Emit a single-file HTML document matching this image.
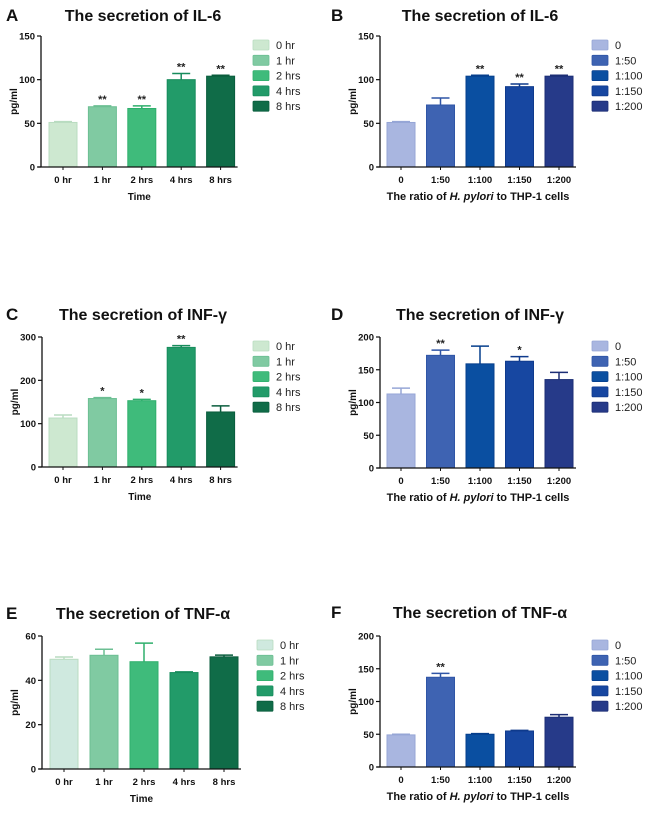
<!DOCTYPE html>
<html><head><meta charset="utf-8"><style>
html,body{margin:0;padding:0;background:#fff;}
svg{display:block;font-family:"Liberation Sans",Arial,sans-serif;}
</style></head><body>
<svg id="fig" width="650" height="813" viewBox="0 0 650 813" xmlns="http://www.w3.org/2000/svg"></svg>
<script>
const timeCats = ["0 hr","1 hr","2 hrs","4 hrs","8 hrs"];
const ratioCats = ["0","1:50","1:100","1:150","1:200"];
const greenFill = ["#cde8d0","#80caa2","#3fbb7b","#229b69","#106c48"];
const greenLine = ["#b9dcc0","#6cbf93","#2faf6c","#178c5c","#0a5d3d"];
const blueFill = ["#a9b6e0","#3e63b2","#0a4fa1","#1747a1","#263a89"];
const blueLine = ["#96a6d6","#2f55a6","#063f8c","#0f3a8c","#1c2e75"];

const aVals = [51,69,67,100,104];
const aErr  = [1,1,3,7,1];
const aStars = ["","**","**","**","**"];
const aTicks = [0,50,100,150];

const bVals = [51,71,104,92,104];
const bErr  = [1,8,1,3,1];
const bStars = ["","","**","**","**"];
const bTicks = [0,50,100,150];

const cVals = [113,158,153,276,127];
const cErr  = [7,2,3,4,14];
const cStars = ["","*","*","**",""];
const cTicks = [0,100,200,300];

const dVals = [113,172,159,163,135];
const dErr  = [9,8,27,7,11];
const dStars = ["","**","","*",""];
const dTicks = [0,50,100,150,200];

const eVals = [49.5,51.3,48.4,43.5,50.6];
const eErr  = [1,2.7,8.4,0.3,0.8];
const eStars = ["","","","",""];
const eTicks = [0,20,40,60];

const fVals = [49,137,50,55,76];
const fErr  = [1,6,1,1,4];
const fStars = ["","**","","",""];
const fTicks = [0,50,100,150,200];

const NS="http://www.w3.org/2000/svg";
const svg=document.getElementById('fig');
function mk(tag,attrs,parent,text){
  const e=document.createElementNS(NS,tag);
  for(const k in attrs)e.setAttribute(k,attrs[k]);
  if(text!==undefined)e.textContent=text;
  (parent||svg).appendChild(e);return e;
}

function panel(p){
  const g=mk('g',{});
  
  
  const ymax=p.ticks[p.ticks.length-1];
  const ys=v=>p.zero-(v/ymax)*(p.zero-p.top);
  const xs=i=>p.bar0+i*p.pitch;
  const bw=28;
  let t=mk('text',{x:p.letterX,y:p.titleY+6,'font-size':17,'font-weight':'bold',fill:'#111'},g,p.letter);
  
  
  t=mk('text',{x:p.titleX,y:p.titleY+6,'font-size':16,'font-weight':'bold','text-anchor':'middle',fill:'#111'},g,p.title);
  
  
  p.vals.forEach((v,i)=>{
    const x=xs(i),y=ys(v);
    const cx=x+bw/2, ye=ys(v+p.err[i]);
    const l=mk('line',{x1:cx,x2:cx,y1:y,y2:ye,stroke:p.lines[i],'stroke-width':1.5},g);
    
    
    const c=mk('line',{x1:cx-9,x2:cx+9,y1:ye,y2:ye,stroke:p.lines[i],'stroke-width':1.5},g);
    
    
    const r=mk('rect',{x:x,y:y,width:bw,height:p.zero-y,fill:p.fills[i],stroke:p.lines[i],'stroke-width':1},g);
    
    
    if(p.stars[i]){
      const s=mk('text',{x:cx,y:ye-3,'font-size':11,'font-weight':'bold','text-anchor':'middle',fill:'#222'},g,p.stars[i]);
      
      
    }
    const tk=mk('line',{x1:cx,x2:cx,y1:p.zero,y2:p.zero+3,stroke:'#111','stroke-width':1},g);
    
    
    const lb=mk('text',{x:cx,y:p.zero+16,'font-size':9.5,'font-weight':'bold','text-anchor':'middle',fill:'#111'},g,p.cats[i]);
    
    
  });
  const endX=xs(p.vals.length-1)+bw+3;
  let a=mk('line',{x1:p.axisX,x2:p.axisX,y1:p.top,y2:p.zero,stroke:'#111','stroke-width':1.3},g);
  
  
  a=mk('line',{x1:p.axisX-3,x2:endX,y1:p.zero,y2:p.zero,stroke:'#111','stroke-width':1.3},g);
  
  
  p.ticks.forEach(v=>{
    const y=ys(v);
    const tk=mk('line',{x1:p.axisX-4,x2:p.axisX,y1:y,y2:y,stroke:'#111','stroke-width':1.2},g);
    
    
    const lb=mk('text',{x:p.axisX-6,y:y+3.5,'font-size':9.5,'font-weight':'bold','text-anchor':'end',fill:'#111'},g,String(v));
    
    
  });
  const my=(p.top+p.zero)/2;
  let yt=mk('text',{x:0,y:0,'font-size':10,'font-weight':'bold','text-anchor':'middle',fill:'#111',transform:`translate(${p.axisX-24},${my}) rotate(-90)`},g,'pg/ml');
  
  
  const midX=(p.axisX+endX)/2;
  let xt=mk('text',{x:midX,y:p.zero+33,'font-size':p.ratio?11:10,'font-weight':'bold','text-anchor':'middle',fill:'#111'},g);
  
  
  if(p.ratio){
    mk('tspan',{},xt,'The ratio of ');
    mk('tspan',{'font-style':'italic'},xt,'H. pylori');
    mk('tspan',{},xt,' to THP-1 cells');
  } else xt.textContent='Time';
  p.cats.forEach((c,i)=>{
    const y=p.top+9+i*15.3;
    const sw=mk('rect',{x:p.legX,y:y-5,width:16,height:10,fill:p.fills[i],stroke:p.lines[i],'stroke-width':0.8,rx:1},g);
    
    
    const lt=mk('text',{x:p.legX+23,y:y+4,'font-size':11,fill:'#222'},g,c);
    
    
  });
}

const L={letterX:6,titleX:143,axisX:41,bar0:49,pitch:39.4,legX:253};
const R={letterX:331,titleX:480,axisX:380,bar0:387,pitch:39.5,legX:592};
panel(Object.assign({},L,{letter:'A',title:'The secretion of IL-6',titleY:15,top:36,zero:167,ticks:aTicks,vals:aVals,err:aErr,stars:aStars,cats:timeCats,fills:greenFill,lines:greenLine,ratio:false}));
panel(Object.assign({},R,{letter:'B',title:'The secretion of IL-6',titleY:15,top:36,zero:167,ticks:bTicks,vals:bVals,err:bErr,stars:bStars,cats:ratioCats,fills:blueFill,lines:blueLine,ratio:true}));
panel(Object.assign({},L,{letter:'C',axisX:42,title:'The secretion of INF-γ',titleY:314,top:337,zero:467,ticks:cTicks,vals:cVals,err:cErr,stars:cStars,cats:timeCats,fills:greenFill,lines:greenLine,ratio:false}));
panel(Object.assign({},R,{letter:'D',title:'The secretion of INF-γ',titleY:314,top:337,zero:468,ticks:dTicks,vals:dVals,err:dErr,stars:dStars,cats:ratioCats,fills:blueFill,lines:blueLine,ratio:true}));
panel(Object.assign({},L,{letter:'E',axisX:42,bar0:50,pitch:40,legX:257,title:'The secretion of TNF-α',titleY:613,top:636,zero:769,ticks:eTicks,vals:eVals,err:eErr,stars:eStars,cats:timeCats,fills:["#cfe9df","#80caa2","#3fbb7b","#229b69","#106c48"],lines:greenLine,ratio:false}));
panel(Object.assign({},R,{letter:'F',title:'The secretion of TNF-α',titleY:612,top:636,zero:767,ticks:fTicks,vals:fVals,err:fErr,stars:fStars,cats:ratioCats,fills:blueFill,lines:blueLine,ratio:true}));
</script>
</body></html>
